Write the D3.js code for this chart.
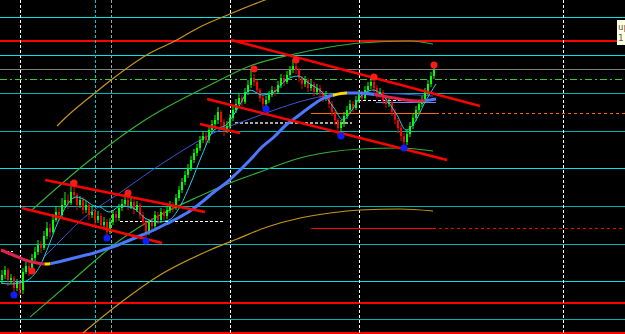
<!DOCTYPE html>
<html>
<head>
<meta charset="utf-8">
<script src="https://cdn.jsdelivr.net/npm/d3@7"></script>
<style>
  body { margin: 0; background: #000; }
  svg { display: block; }
</style>
</head>
<body>
<div id="vis"></div>
<script>
// chart size
var width = 625, height = 334;

// ---- candles (bar 0 = left edge) ----
var opens = [1.0854,1.0859,1.0864,1.0854,1.0856,1.0846,1.0852,1.0844,1.0862,1.0868,
  1.0864,1.0876,1.0882,1.0889,1.0886,1.0898,1.0906,1.0902,1.0914,1.0922,
  1.0919,1.0929,1.0934,1.0931,1.0942,1.0939,1.0929,1.0934,1.0924,1.0929,
  1.0919,1.0922,1.0914,1.0918,1.0909,1.0912,1.0902,1.0912,1.0920,1.0916,
  1.0926,1.0930,1.0934,1.0928,1.0932,1.0924,1.0929,1.0919,1.0912,1.0902,
  1.0912,1.0908,1.0919,1.0914,1.0922,1.0918,1.0924,1.0929,1.0926,1.0936,
  1.0944,1.0952,1.0959,1.0966,1.0974,1.0981,1.0986,1.0994,1.0998,1.0994,
  1.1004,1.1010,1.1014,1.1022,1.1012,1.1004,1.1008,1.1016,1.1024,1.1030,
  1.1036,1.1032,1.1042,1.1049,1.1056,1.1052,1.1044,1.1036,1.1030,1.1034,
  1.1039,1.1044,1.1042,1.1049,1.1056,1.1052,1.1059,1.1064,1.1068,1.1064,
  1.1056,1.1050,1.1054,1.1046,1.1050,1.1042,1.1046,1.1040,1.1036,1.1039,
  1.1030,1.1022,1.1014,1.1006,1.1010,1.1018,1.1024,1.1030,1.1026,1.1034,
  1.1040,1.1036,1.1044,1.1048,1.1052,1.1046,1.1040,1.1042,1.1034,1.1030,
  1.1032,1.1022,1.1014,1.1006,1.0998,1.0992,1.1000,1.1008,1.1016,1.1024,
  1.1030,1.1034,1.1042,1.1050,1.1058];
var highs = [1.0864,1.0868,1.0866,1.0860,1.0858,1.0855,1.0854,1.0866,1.0872,1.0871,
  1.0880,1.0887,1.0894,1.0893,1.0903,1.0912,1.0910,1.0920,1.0928,1.0927,
  1.0936,1.0942,1.0940,1.0953,1.0950,1.0941,1.0938,1.0937,1.0933,1.0932,
  1.0928,1.0925,1.0923,1.0921,1.0917,1.0915,1.0916,1.0924,1.0923,1.0930,
  1.0935,1.0940,1.0937,1.0936,1.0935,1.0933,1.0931,1.0922,1.0915,1.0915,
  1.0916,1.0923,1.0922,1.0926,1.0925,1.0928,1.0933,1.0932,1.0940,1.0948,
  1.0956,1.0963,1.0970,1.0978,1.0985,1.0990,1.0998,1.1003,1.1002,1.1008,
  1.1014,1.1019,1.1027,1.1024,1.1015,1.1013,1.1020,1.1028,1.1035,1.1040,
  1.1039,1.1046,1.1054,1.1065,1.1060,1.1054,1.1046,1.1039,1.1038,1.1043,
  1.1048,1.1047,1.1053,1.1060,1.1059,1.1063,1.1068,1.1075,1.1071,1.1066,
  1.1058,1.1058,1.1056,1.1054,1.1052,1.1050,1.1049,1.1043,1.1043,1.1041,
  1.1033,1.1024,1.1016,1.1014,1.1022,1.1028,1.1034,1.1033,1.1038,1.1044,
  1.1043,1.1048,1.1052,1.1058,1.1054,1.1049,1.1046,1.1044,1.1037,1.1036,
  1.1034,1.1025,1.1016,1.1009,1.1001,1.1004,1.1012,1.1020,1.1028,1.1034,
  1.1038,1.1046,1.1054,1.1062,1.1069];
var lows = [1.0850,1.0855,1.0848,1.0850,1.0838,1.0843,1.0839,1.0840,1.0860,1.0858,
  1.0862,1.0873,1.0879,1.0881,1.0884,1.0895,1.0897,1.0900,1.0912,1.0914,
  1.0916,1.0926,1.0925,1.0929,1.0935,1.0924,1.0926,1.0920,1.0921,1.0914,
  1.0916,1.0908,1.0911,1.0905,1.0906,1.0896,1.0900,1.0909,1.0912,1.0913,
  1.0923,1.0927,1.0924,1.0925,1.0920,1.0922,1.0915,1.0908,1.0893,1.0899,
  1.0904,1.0905,1.0910,1.0911,1.0914,1.0915,1.0921,1.0922,1.0924,1.0933,
  1.0941,1.0949,1.0956,1.0963,1.0971,1.0978,1.0983,1.0991,1.0989,1.0991,
  1.1001,1.1007,1.1010,1.1006,1.0998,1.1001,1.1005,1.1013,1.1021,1.1027,
  1.1028,1.1030,1.1039,1.1046,1.1048,1.1040,1.1032,1.1025,1.1027,1.1031,
  1.1037,1.1038,1.1040,1.1046,1.1048,1.1050,1.1057,1.1061,1.1060,1.1052,
  1.1045,1.1047,1.1042,1.1043,1.1038,1.1039,1.1036,1.1032,1.1033,1.1026,
  1.1018,1.1009,1.0998,1.1002,1.1007,1.1015,1.1021,1.1022,1.1024,1.1031,
  1.1032,1.1034,1.1041,1.1045,1.1042,1.1036,1.1037,1.1030,1.1026,1.1027,
  1.1018,1.1010,1.1001,1.0993,1.0986,1.0989,1.0997,1.1005,1.1013,1.1021,
  1.1027,1.1031,1.1039,1.1047,1.1055];
var closes = [1.0859,1.0864,1.0854,1.0856,1.0846,1.0852,1.0844,1.0862,1.0868,1.0864,
  1.0876,1.0882,1.0889,1.0886,1.0898,1.0906,1.0902,1.0914,1.0922,1.0919,
  1.0929,1.0934,1.0931,1.0942,1.0939,1.0929,1.0934,1.0924,1.0929,1.0919,
  1.0922,1.0914,1.0918,1.0909,1.0912,1.0902,1.0912,1.0920,1.0916,1.0926,
  1.0930,1.0934,1.0928,1.0932,1.0924,1.0929,1.0919,1.0912,1.0902,1.0912,
  1.0908,1.0919,1.0914,1.0922,1.0918,1.0924,1.0929,1.0926,1.0936,1.0944,
  1.0952,1.0959,1.0966,1.0974,1.0981,1.0986,1.0994,1.0998,1.0994,1.1004,
  1.1010,1.1014,1.1022,1.1012,1.1004,1.1008,1.1016,1.1024,1.1030,1.1036,
  1.1032,1.1042,1.1049,1.1056,1.1052,1.1044,1.1036,1.1030,1.1034,1.1039,
  1.1044,1.1042,1.1049,1.1056,1.1052,1.1059,1.1064,1.1068,1.1064,1.1056,
  1.1050,1.1054,1.1046,1.1050,1.1042,1.1046,1.1040,1.1036,1.1039,1.1030,
  1.1022,1.1014,1.1006,1.1010,1.1018,1.1024,1.1030,1.1026,1.1034,1.1040,
  1.1036,1.1044,1.1048,1.1052,1.1046,1.1040,1.1042,1.1034,1.1030,1.1032,
  1.1022,1.1014,1.1006,1.0998,1.0992,1.1000,1.1008,1.1016,1.1024,1.1030,
  1.1034,1.1042,1.1050,1.1058,1.1064];

// ---- indicator lines, [bar, price] ----
var fastMA = [[0,1.0851],[3,1.0850],[6,1.0851],[9,1.0854],[13,1.0868],[16,1.0889],[19,1.0912],
  [22,1.0929],[25,1.0937],[28,1.0934],[31,1.0928],[33,1.0927],[36,1.0922],[40,1.0928],[44,1.0926],
  [48,1.0916],[52,1.0912],[56,1.0914],[59,1.0924],[63,1.0949],[67,1.0979],[71,1.1004],[75,1.1009],
  [79,1.1026],[83,1.1044],[87,1.1039],[91,1.1042],[95,1.1054],[99,1.1058],[103,1.1050],[107,1.1042],
  [111,1.1026],[114,1.1014],[117,1.1024],[120,1.1038],[124,1.1044],[128,1.1036],[132,1.1019],
  [135,1.1004],[138,1.1012],[141,1.1030],[145,1.1050]];
var slowMA = [[0,1.0884],[4,1.0879],[8,1.0874],[12,1.0871],[15,1.0870],[19,1.0872],[23,1.0875],
  [27,1.0878],[31,1.0881],[35,1.0885],[39,1.0889],[43,1.0894],[47,1.0899],[51,1.0904],[55,1.0910],
  [59,1.0916],[63,1.0923],[67,1.0932],[71,1.0942],[75,1.0951],[79,1.0962],[83,1.0974],[87,1.0987],
  [91,1.0997],[95,1.1009],[99,1.1018],[103,1.1027],[107,1.1035],[111,1.1039],[115,1.1041],
  [119,1.1041],[123,1.1040],[127,1.1038],[131,1.1036],[135,1.1034],[139,1.1033],[143,1.1034],[145,1.1035]];
// trend state of slow MA: [first bar, state]
var slowState = [[0,"down"],[14.5,"turn"],[16.5,"up"],[110.7,"turn"],[115.3,"up"],[124.5,"down"],[141.5,"up"]];
var midLine = [[14,1.0876],[20,1.0894],[26,1.0912],[40,1.0942],[55,1.0973],[73,1.1004],[83,1.1015],
  [93,1.1026],[103,1.1035],[113,1.1040],[123,1.1041],[133,1.1040],[144,1.1038]];

// regression bands
var outerUpper = [[18.7,1.1008],[20.7,1.1014],[31.3,1.1041],[36.7,1.1054],[49.7,1.1081],[57.3,1.1092],
  [66.3,1.1107],[76.3,1.1120],[88,1.1134],[96.3,1.1143]];
var outerLower = [[27.3,1.0801],[39.7,1.0831],[53,1.0859],[69.7,1.0884],[78.7,1.0895],[88.7,1.0907],
  [99.7,1.0916],[109.7,1.0921],[119.7,1.0924],[133,1.0925],[144,1.0923]];
var innerUpper = [[10.3,1.0924],[29.7,1.0974],[48,1.1014],[69.7,1.1049],[83,1.1068],[96.3,1.1079],
  [109.7,1.1087],[119.7,1.1091],[136.3,1.1093],[144,1.1090]];
var innerLower = [[9.7,1.0817],[24.7,1.0856],[39.7,1.0894],[53,1.0919],[66.3,1.0938],[76.3,1.0951],
  [86.3,1.0962],[99.7,1.0976],[109.7,1.0982],[119.7,1.0985],[133,1.0986],[144,1.0983]];

// trend channels [bar1, price1, bar2, price2]
var channels = [[14.7,1.0954,68,1.0922],[7,1.0926,53.7,1.0891],[66.3,1.1010,79.7,1.1001],
  [76.7,1.1094,159.7,1.1028],[68.7,1.1035,148.7,1.0974]];

// fractal markers
var upFractals = [[10,1.0863],[24,1.0951],[42,1.0941],[84,1.1065],[98,1.1074],[124,1.1057],[144,1.1069]];
var downFractals = [[4,1.0839],[35,1.0896],[48,1.0893],[88,1.1025],[113,1.0998],[134,1.0986]];

// price levels across the chart
var levels = [1.1117,1.1094,1.1079,1.1065,1.1055,1.1041,1.1003,1.0966,1.0928,1.0890,1.0853,1.0832,1.0815,1.0802];
var levelKinds = ["cyan","red","cyan","gray","dashdot","teal","teal","cyan","teal","teal","cyan","red","teal","red"];

// partial levels: [price, from bar, solid until bar, kind]
var partLevels = [[1.1021,103.3,145,"orange"],[1.0906,103.3,144,"red"]];
// short dashed marks: [price, from bar, to bar, kind]
var shortMarks = [[1.1034,119,140,"white"],[1.1012,78,117,"gray"],[1.0913,39.7,74,"white"],
  [1.0883,0,4,"white"],[1.1032,125,145,"blue"]];

// period separators (bar positions)
var separators = [6.33,31.33,36.67,76.33,119.33,187.33];
var sepKinds = ["white","cyan","gray","white","white","white"];

// info box lines
var infoLines = ["up", "1."];

// ---- scales ----
var x = d3.scaleLinear().domain([0, 208]).range([1, 625]);
var y = d3.scaleLinear().domain([1.0800, 1.1134]).range([334, 0]);

var svg = d3.select("#vis").append("svg")
    .attr("width", width)
    .attr("height", height)
    .style("background", "#000");

svg.append("rect").attr("width", width).attr("height", height).attr("fill", "#000");

var levelColor = {cyan: "#00e6e6", teal: "#00b4b4", red: "#ff0000", gray: "#808080", dashdot: "#32cd32"};

// full levels
svg.append("g").selectAll("line")
    .data(levels)
  .enter().append("line")
    .attr("x1", 0).attr("x2", width)
    .attr("y1", function(d) { return Math.round(y(d)) + 0.5; })
    .attr("y2", function(d) { return Math.round(y(d)) + 0.5; })
    .attr("stroke", function(d, i) { return levelColor[levelKinds[i]]; })
    .attr("stroke-width", function(d, i) { return levelKinds[i] == "red" ? 2 : 1.4; })
    .attr("stroke-dasharray", function(d, i) { return levelKinds[i] == "dashdot" ? "7,3,2,3" : null; })
    .attr("shape-rendering", "crispEdges");

// partial levels (solid then dashed)
var partColor = {orange: "#ff6a00", red: "#ff0000"};
partLevels.forEach(function(p) {
  var yy = Math.round(y(p[0])) + 0.5;
  svg.append("line").attr("x1", x(p[1])).attr("x2", x(p[2]))
     .attr("y1", yy).attr("y2", yy).attr("stroke", partColor[p[3]])
     .attr("stroke-width", 1.4).attr("shape-rendering", "crispEdges");
  svg.append("line").attr("x1", x(p[2])).attr("x2", width)
     .attr("y1", yy).attr("y2", yy).attr("stroke", partColor[p[3]])
     .attr("stroke-width", 1.4).attr("stroke-dasharray", "3,3")
     .attr("shape-rendering", "crispEdges");
});

// separators
var sepColor = {white: "#ffffff", cyan: "#00c8c8", gray: "#a0a0a0"};
svg.append("g").selectAll("line")
    .data(separators)
  .enter().append("line")
    .attr("x1", function(d) { return Math.round(x(d)) + 0.5; })
    .attr("x2", function(d) { return Math.round(x(d)) + 0.5; })
    .attr("y1", 0).attr("y2", height)
    .attr("stroke", function(d, i) { return sepColor[sepKinds[i]]; })
    .attr("stroke-width", function(d, i) { return sepKinds[i] == "white" ? 1.3 : 1.6; })
    .attr("stroke-dasharray", "3,2")
    .attr("shape-rendering", "crispEdges");

// short marks
var markColor = {white: "#ffffff", gray: "#a8a8a8", blue: "#6a8cff"};
shortMarks.forEach(function(m) {
  var yy = Math.round(y(m[0])) + 0.5;
  svg.append("line").attr("x1", x(m[1])).attr("x2", x(m[2]))
     .attr("y1", yy).attr("y2", yy).attr("stroke", markColor[m[3]])
     .attr("stroke-width", m[3] == "gray" ? 2 : 1.3)
     .attr("stroke-dasharray", m[3] == "blue" ? null : "3,2")
     .attr("shape-rendering", "crispEdges");
});

// curve helper
var curve = d3.line()
    .x(function(d) { return x(d[0]); })
    .y(function(d) { return y(d[1]); })
    .curve(d3.curveMonotoneX);

// regression bands
svg.append("path").datum(outerUpper).attr("d", curve)
    .attr("fill", "none").attr("stroke", "#c8961e").attr("stroke-width", 1.2);
svg.append("path").datum(outerLower).attr("d", curve)
    .attr("fill", "none").attr("stroke", "#c8961e").attr("stroke-width", 1.2);
svg.append("path").datum(innerUpper).attr("d", curve)
    .attr("fill", "none").attr("stroke", "#35b035").attr("stroke-width", 1.2);
svg.append("path").datum(innerLower).attr("d", curve)
    .attr("fill", "none").attr("stroke", "#35b035").attr("stroke-width", 1.2);
svg.append("path").datum(midLine).attr("d", curve)
    .attr("fill", "none").attr("stroke", "#3a56d8").attr("stroke-width", 1);

// candles
var bars = svg.append("g").selectAll("g")
    .data(closes)
  .enter().append("g");

bars.append("rect")
    .attr("x", function(d, i) { return Math.round(x(i)) + 0.5; })
    .attr("width", 1)
    .attr("y", function(d, i) { return y(highs[i]); })
    .attr("height", function(d, i) { return Math.max(1, y(lows[i]) - y(highs[i])); })
    .attr("fill", function(d, i) { return d >= opens[i] ? "#00ff00" : "#ff0000"; });

bars.append("rect")
    .attr("x", function(d, i) { return Math.round(x(i)); })
    .attr("width", 2)
    .attr("y", function(d, i) { return y(Math.max(d, opens[i])); })
    .attr("height", function(d, i) { return Math.max(1, Math.abs(y(d) - y(opens[i]))); })
    .attr("fill", function(d, i) { return d >= opens[i] ? "#00ff00" : "#ff0000"; });

// fast MA
svg.append("path").datum(fastMA).attr("d", curve)
    .attr("fill", "none").attr("stroke", "#1ed2e6").attr("stroke-width", 1);

// slow MA coloured by state
var stateColor = {down: "#e0204e", turn: "#ffd800", up: "#4a78ff"};
var defs = svg.append("defs");
slowState.forEach(function(s, k) {
  var end = k < slowState.length - 1 ? slowState[k + 1][0] : 208;
  defs.append("clipPath").attr("id", "seg" + k)
    .append("rect").attr("x", x(s[0])).attr("width", x(end) - x(s[0]))
    .attr("y", 0).attr("height", height);
  svg.append("path").datum(slowMA).attr("d", curve)
    .attr("clip-path", "url(#seg" + k + ")")
    .attr("fill", "none").attr("stroke", stateColor[s[1]]).attr("stroke-width", 3);
});

// trend channels
svg.append("g").selectAll("line")
    .data(channels)
  .enter().append("line")
    .attr("x1", function(d) { return x(d[0]); })
    .attr("y1", function(d) { return y(d[1]); })
    .attr("x2", function(d) { return x(d[2]); })
    .attr("y2", function(d) { return y(d[3]); })
    .attr("stroke", "#ff0000").attr("stroke-width", 2.4);

// fractals
svg.append("g").selectAll("circle")
    .data(upFractals)
  .enter().append("circle")
    .attr("cx", function(d) { return x(d[0]) + 1; })
    .attr("cy", function(d) { return y(d[1]); })
    .attr("r", 3.5).attr("fill", "#ff1a1a");
svg.append("g").selectAll("circle")
    .data(downFractals)
  .enter().append("circle")
    .attr("cx", function(d) { return x(d[0]) + 1; })
    .attr("cy", function(d) { return y(d[1]); })
    .attr("r", 3.5).attr("fill", "#0a1eff");

// info box, partly outside the window like the terminal shows it
var box = svg.append("g").attr("transform", "translate(617,20)");
box.append("rect").attr("width", 12).attr("height", 25).attr("fill", "#ffffe1");
box.selectAll("text")
    .data(infoLines)
  .enter().append("text")
    .attr("x", 1)
    .attr("y", function(d, i) { return 10 + i * 11; })
    .attr("font-family", "DejaVu Sans Mono")
    .attr("font-size", 9)
    .attr("fill", "#555")
    .text(function(d) { return d; });
</script>
</body>
</html>
